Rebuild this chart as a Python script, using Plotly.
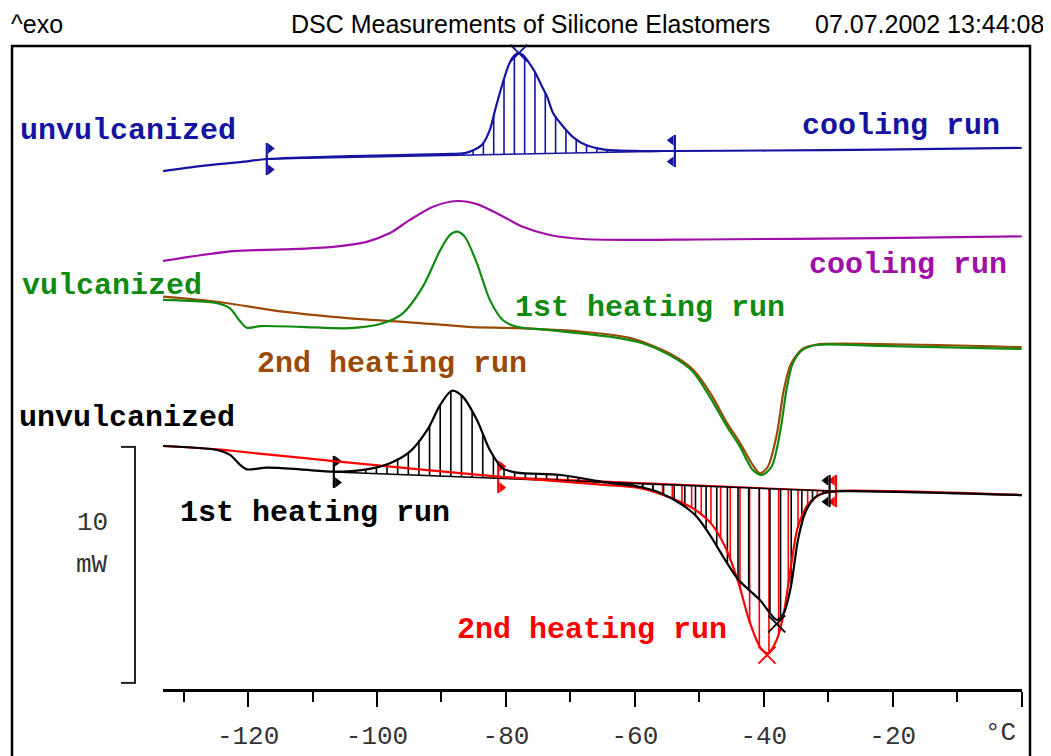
import numpy as np
import plotly.graph_objects as go

# ---------------- data ----------------
# temperature in degC, heat flow in mW (curves shifted vertically for display)
T_blue = [-133.2, -127.4, -121.2, -117.1, -111.9, -96.4, -89.5, -86.4, -85.0, -83.6, -82.5, -81.6,
          -80.5, -79.5, -78.6, -78.0, -77.4, -76.6, -75.5, -74.6, -73.6, -72.7, -71.2, -69.6,
          -67.6, -64.7, -59.2, -53.8, -39.5, -22.0, 0.0]
Q_blue = [21.99, 22.20, 22.37, 22.50, 22.56, 22.67, 22.71, 22.75, 22.88, 23.14, 23.73, 24.66,
          25.72, 26.53, 26.91, 26.99, 26.91, 26.65, 26.19, 25.68, 25.13, 24.45, 23.90, 23.43,
          23.09, 22.90, 22.84, 22.84, 22.86, 22.90, 22.97]

T_purple = [-133.2, -122.3, -114.6, -106.8, -101.6, -98.0, -94.9, -91.3, -87.6, -84.5, -80.9,
            -77.4, -73.2, -68.1, -60.8, -49.9, -22.0, 0.0]
Q_purple = [18.18, 18.60, 18.67, 18.78, 18.99, 19.36, 19.92, 20.48, 20.72, 20.59, 20.13,
            19.63, 19.28, 19.11, 19.07, 19.09, 19.15, 19.22]

T_green = [-133.2, -124.8, -122.8, -121.2, -120.2, -118.1, -111.9, -104.2, -99.1, -96.0, -92.9,
           -90.2, -88.7, -87.6, -86.4, -84.5, -82.5, -80.5, -78.3, -73.2, -63.9, -58.8, -54.6,
           -51.0, -48.4, -45.7, -43.7, -41.7, -40.3, -38.8, -37.5, -36.4, -35.5, -34.0, -31.8,
           -22.0, 0.0]
Q_green = [16.53, 16.39, 16.17, 15.61, 15.35, 15.42, 15.39, 15.33, 15.54, 15.96, 17.09,
           18.64, 19.28, 19.42, 19.21, 18.08, 16.53, 15.68, 15.39, 15.25, 14.97, 14.69, 14.19,
           13.49, 12.43, 11.16, 10.31, 9.32, 9.11, 9.46, 10.89, 12.85, 13.84, 14.41, 14.62,
           14.58, 14.45]

T_brown = [-133.2, -124.8, -114.6, -104.2, -93.8, -86.0, -78.3, -68.1, -60.8, -54.6, -51.0,
           -48.2, -45.7, -43.7, -41.7, -40.6, -39.4, -38.0, -36.9, -35.8, -34.0, -31.8, -22.0, 0.0]
Q_brown = [16.67, 16.45, 16.03, 15.75, 15.56, 15.39, 15.33, 15.18, 14.92, 14.26, 13.58,
           12.54, 11.31, 10.47, 9.53, 9.18, 9.45, 10.81, 12.71, 13.81, 14.45, 14.64, 14.66, 14.53]

T_black = [-133.2, -124.8, -122.8, -121.2, -120.2, -117.1, -111.9, -106.7, -101.6, -98.0, -94.9,
           -92.2, -90.2, -88.4, -86.7, -84.5, -82.5, -80.5, -78.3, -71.6, -64.7, -59.2, -56.4,
           -52.6, -50.4, -48.2, -46.0, -43.9, -40.6, -38.0, -36.9, -35.8, -34.7, -33.6, -31.9,
           -29.8, -26.5, 0.0]
Q_black = [10.34, 10.17, 9.96, 9.53, 9.35, 9.42, 9.35, 9.25, 9.35, 9.61, 10.10,
           11.02, 12.08, 12.68, 12.43, 11.44, 10.17, 9.39, 9.21, 9.11, 8.81, 8.60, 8.39,
           7.84, 7.34, 6.50, 5.51, 4.66, 3.81, 2.97, 3.26, 4.38, 6.36, 7.50, 8.19,
           8.40, 8.43, 8.26]

T_red = [-133.2, -124.8, -121.2, -106.7, -81.2, -64.7, -59.2, -54.9, -51.0, -48.2, -46.0, -43.9,
         -42.3, -40.6, -39.4, -38.0, -36.9, -35.8, -34.7, -33.0, -30.9, -28.7, 0.0]
Q_red = [10.34, 10.20, 10.10, 9.70, 9.04, 8.69, 8.55, 8.19, 7.70, 7.06, 6.07, 4.52,
         2.97, 1.83, 1.56, 2.12, 3.26, 5.22, 6.92, 7.91, 8.33, 8.43, 8.26]

# integration limits (degC) and baseline values (mW)
blue_limits = [-117.1, -53.8]
blue_base = [22.50, 22.84]
black_limits = [-106.7, -29.8]
black_base = [9.24, 8.43]
red_limits = [-81.2, -28.8]
red_base = [9.03, 8.43]

# peak markers (degC, mW)
blue_peak = (-78.0, 26.99)
black_peak = (-38.0, 2.80)
red_peak = (-39.5, 1.48)

x_ticks = [-120, -100, -80, -60, -40, -20, 0]
x_tick_text = ["-120", "-100", "-80", "-60", "-40", "-20", ""]
x_minor = [-130, -110, -90, -70, -50, -30, -10]

scale_bar_mW = 10
scale_bar_bottom = 0.30

C_BLUE = "#1414a0"
C_PURPLE = "#a010a8"
C_GREEN = "#108a10"
C_BROWN = "#9a4a06"
C_RED = "#ff0000"
C_BLACK = "#000000"

# page body has an 8px margin: figure occupies window pixels 8..1051 / 8..756
OFF = 8
W, H = 1051 - OFF, 756 - OFF
X_RANGE = [-133.2, 0.05]
Y_RANGE = [(690 - 756) / 23.6, (690 - OFF) / 23.6]

fig = go.Figure()


def px(x):
    return (x - OFF) / W


def py(y):
    return 1 - (y - OFF) / H


def hatch(T, Q, lim, base, step):
    xs, ys = [], []
    t = lim[0] + step
    while t < lim[1] - 0.3:
        qc = float(np.interp(t, T, Q))
        qb = base[0] + (base[1] - base[0]) * (t - lim[0]) / (lim[1] - lim[0])
        xs += [t, t, None]
        ys += [qb, qc, None]
        t += step
    return xs, ys


def add_integration(T, Q, lim, base, color, tri_color, step):
    hx, hy = hatch(T, Q, lim, base, step)
    fig.add_trace(go.Scatter(x=hx, y=hy, mode="lines", line=dict(color=color, width=1.6),
                             hoverinfo="skip"))
    fig.add_trace(go.Scatter(x=lim, y=base, mode="lines", line=dict(color=color, width=1.6),
                             hoverinfo="skip"))
    # limit markers
    vx, vy = [], []
    for t, b in zip(lim, base):
        vx += [t, t, None]
        vy += [b - 0.68, b + 0.68, None]
    fig.add_trace(go.Scatter(x=vx, y=vy, mode="lines", line=dict(color=color, width=2.2),
                             hoverinfo="skip"))
    off = [0.55, -0.55]
    syms = ["triangle-right", "triangle-left"]
    for t, b, o, s in zip(lim, base, off, syms):
        fig.add_trace(go.Scatter(x=[t + o, t + o], y=[b + 0.45, b - 0.45], mode="markers",
                                 marker=dict(symbol=s, size=9, color=tri_color),
                                 hoverinfo="skip"))


# hatching / baselines first (below curves)
add_integration(T_blue, Q_blue, blue_limits, blue_base, C_BLUE, C_BLUE, 1.6)
add_integration(T_red, Q_red, red_limits, red_base, C_RED, C_RED, 1.5)
add_integration(T_black, Q_black, black_limits, black_base, C_BLACK, C_BLACK, 1.65)

for T, Q, c in [(T_purple, Q_purple, C_PURPLE), (T_brown, Q_brown, C_BROWN),
                (T_green, Q_green, C_GREEN), (T_blue, Q_blue, C_BLUE),
                (T_red, Q_red, C_RED), (T_black, Q_black, C_BLACK)]:
    fig.add_trace(go.Scatter(x=T, y=Q, mode="lines", line=dict(color=c, width=2.2, shape="spline",
                                                                smoothing=0.8),
                             hoverinfo="skip"))

for (t, q), c in [(blue_peak, C_BLUE), (black_peak, C_BLACK), (red_peak, C_RED)]:
    fig.add_trace(go.Scatter(x=[t], y=[q], mode="markers",
                             marker=dict(symbol="x-thin", size=17, line=dict(color=c, width=1.8)),
                             hoverinfo="skip"))

# frame
fig.add_shape(type="rect", xref="paper", yref="paper", x0=px(12), x1=px(1030), y0=-0.2,
              y1=py(46), line=dict(color="black", width=2.5))

# scale bar
fig.add_shape(type="line", xref="paper", yref="y", x0=px(135), x1=px(135),
              y0=scale_bar_bottom, y1=scale_bar_bottom + scale_bar_mW,
              line=dict(color="#222", width=2))
for yy in [scale_bar_bottom, scale_bar_bottom + scale_bar_mW]:
    fig.add_shape(type="line", xref="paper", yref="y", x0=px(121), x1=px(136), y0=yy, y1=yy,
                  line=dict(color="#222", width=2))

mono_thin = dict(family="Liberation Mono, Courier New, monospace", size=26, color="#333")
fig.add_annotation(x=px(92), y=py(523), xref="paper", yref="paper", text=str(scale_bar_mW),
                   showarrow=False, font=mono_thin, xanchor="center", yanchor="middle")
fig.add_annotation(x=px(92), y=py(565), xref="paper", yref="paper", text="mW",
                   showarrow=False, font=mono_thin, xanchor="center", yanchor="middle")
fig.add_annotation(x=px(1000), y=py(733), xref="paper", yref="paper", text="°C",
                   showarrow=False, font=mono_thin, xanchor="center", yanchor="middle")

# header
head = dict(family="Liberation Sans, Arial, sans-serif", size=25, color="black")
fig.add_annotation(x=px(9), y=py(24), xref="paper", yref="paper", text="^exo", showarrow=False,
                   font=head, xanchor="left", yanchor="middle")
fig.add_annotation(x=px(530), y=py(24), xref="paper", yref="paper",
                   text="DSC Measurements of Silicone Elastomers", showarrow=False,
                   font=head, xanchor="center", yanchor="middle")
fig.add_annotation(x=px(1046), y=py(24), xref="paper", yref="paper", text="07.07.2002 13:44:08",
                   showarrow=False, font=head, xanchor="right", yanchor="middle")

# curve labels
labels = [
    ("unvulcanized", 18, 131, C_BLUE),
    ("cooling run", 800, 126, C_BLUE),
    ("cooling run", 807, 265, C_PURPLE),
    ("vulcanized", 20, 286, C_GREEN),
    ("1st heating run", 513, 308, C_GREEN),
    ("2nd heating run", 255, 364, C_BROWN),
    ("unvulcanized", 17, 418, C_BLACK),
    ("1st heating run", 178, 513, C_BLACK),
    ("2nd heating run", 455, 630, C_RED),
]
for txt, lx, ly, c in labels:
    fig.add_annotation(x=px(lx), y=py(ly), xref="paper", yref="paper", text="<b>%s</b>" % txt,
                       showarrow=False, xanchor="left", yanchor="middle",
                       font=dict(family="Liberation Mono, Courier New, monospace", size=30,
                                 color=c))

fig.update_layout(
    width=W, height=H, margin=dict(l=0, r=0, t=0, b=0),
    paper_bgcolor="white", plot_bgcolor="white", showlegend=False,
    xaxis=dict(domain=[px(163), px(1022)], range=X_RANGE, anchor="free", position=py(690),
               showline=True, linecolor="black", linewidth=2.5, showgrid=False, zeroline=False,
               tickmode="array", tickvals=x_ticks, ticktext=x_tick_text, ticks="outside",
               ticklen=15, tickwidth=2, tickcolor="black", ticklabelstandoff=6,
               tickfont=mono_thin,
               minor=dict(tickmode="array", tickvals=x_minor, ticks="outside", ticklen=10,
                          tickwidth=2, tickcolor="black", showgrid=False)),
    yaxis=dict(domain=[0, 1], range=Y_RANGE, visible=False),
)

fig.write_html("out.html")
